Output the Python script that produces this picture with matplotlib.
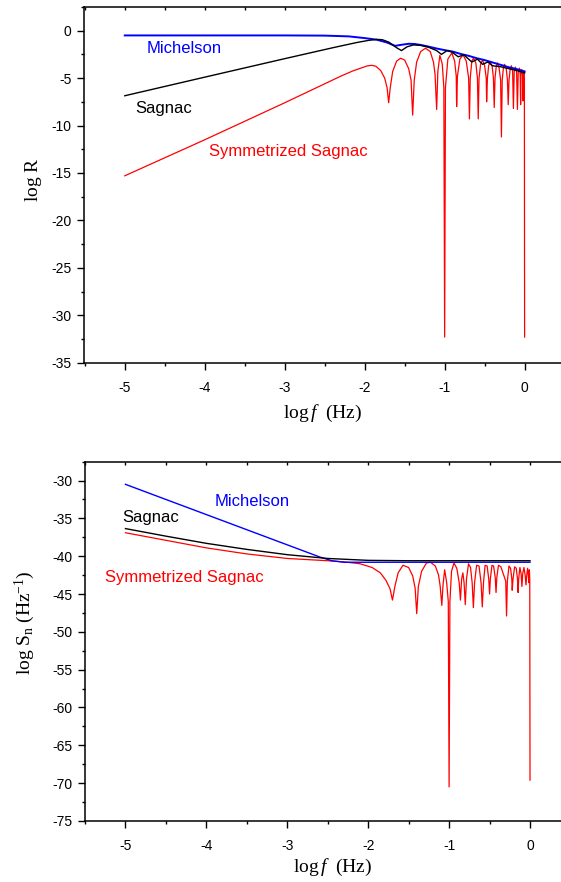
import matplotlib
matplotlib.use("Agg")
import matplotlib.pyplot as plt
from matplotlib.ticker import MultipleLocator

plt.rcParams['font.family'] = ['Liberation Sans', 'DejaVu Sans']
plt.rcParams['axes.unicode_minus'] = False
plt.rcParams['mathtext.fontset'] = 'custom'
plt.rcParams['mathtext.rm'] = 'Liberation Serif'
plt.rcParams['mathtext.it'] = 'Liberation Serif:italic'

# ---- top panel: log R vs log f ----
top_mich_x = [-5.0, -3.0, -2.5, -2.2, -2.0, -1.85, -1.72, -1.62, -1.55, -1.45, -1.38, -1.3,
              -1.2, -1.1, -1.0, -0.9, -0.8, -0.7, -0.6, -0.5, -0.4, -0.3, -0.2, -0.1, 0.0]
top_mich_y = [-0.5, -0.5, -0.52, -0.6, -0.78, -0.95, -1.25, -1.6, -1.5, -1.38, -1.4, -1.5,
              -1.68, -1.88, -2.05, -2.2, -2.45, -2.65, -2.9, -3.1, -3.35, -3.6, -3.85, -4.05, -4.3]

top_sag_x = [-5.0, -4.0, -3.0, -2.4, -2.1, -1.95, -1.85, -1.78, -1.7, -1.6, -1.54, -1.47, -1.39,
             -1.3, -1.2, -1.1, -1.04, -0.97, -0.91, -0.83, -0.76, -0.66, -0.59, -0.525, -0.46,
             -0.4, -0.3, -0.2, -0.1, 0.0]
top_sag_y = [-6.86, -4.9, -2.95, -1.8, -1.25, -1.02, -0.92, -0.95, -1.2, -1.8, -2.1, -1.7, -1.5,
             -1.55, -1.75, -2.1, -2.5, -2.1, -2.25, -2.75, -2.55, -3.3, -3.0, -3.55, -3.3,
             -3.7, -3.8, -4.0, -4.2, -4.45]

top_sym_x = [-5.0, -4.0, -3.0, -2.5, -2.3, -2.15, -2.05, -1.97, -1.91, -1.86, -1.8, -1.75, -1.72,
             -1.7, -1.68, -1.65, -1.6, -1.55, -1.5, -1.45, -1.42, -1.4, -1.38, -1.35, -1.3,
             -1.24, -1.18, -1.14, -1.12, -1.1, -1.085, -1.06, -1.03, -1.01, -1.0, -0.99, -0.96,
             -0.91, -0.875, -0.855, -0.85, -0.84, -0.81, -0.77, -0.73, -0.7, -0.69, -0.68, -0.66,
             -0.64, -0.61, -0.59, -0.58, -0.57, -0.55, -0.525, -0.5, -0.48, -0.475, -0.465,
             -0.45, -0.43, -0.405, -0.39, -0.38, -0.37, -0.355, -0.34, -0.32, -0.3, -0.29,
             -0.28, -0.265, -0.25, -0.23, -0.215, -0.205, -0.195, -0.18, -0.165, -0.15, -0.14,
             -0.13, -0.115, -0.1, -0.09, -0.08, -0.065, -0.055, -0.05, -0.045, -0.035, -0.025,
             -0.02, -0.015, -0.008, -0.003, 0.0]
top_sym_y = [-15.3, -11.5, -7.6, -5.6, -4.8, -4.25, -3.95, -3.72, -3.65, -3.75, -4.2, -5.0, -6.0,
             -7.6, -6.0, -4.3, -3.2, -2.9, -3.1, -4.0, -5.2, -8.9, -5.2, -3.3, -2.2,
             -1.85, -2.2, -3.3, -4.6, -8.3, -4.3, -2.6, -3.5, -6.0, -32.3, -6.0, -3.0,
             -2.35, -3.2, -4.8, -8.0, -4.8, -3.0, -2.55, -3.2, -5.0, -9.3, -5.0, -3.2,
             -2.9, -3.4, -5.0, -9.3, -5.0, -3.5, -3.1, -3.7, -5.0, -7.5, -5.0,
             -3.7, -3.25, -3.8, -5.0, -8.1, -5.0, -3.8, -3.4, -3.9, -5.2, -11.2,
             -5.2, -3.9, -3.55, -4.0, -5.2, -7.8, -5.2, -4.0, -3.7, -4.3, -8.2,
             -4.3, -3.85, -4.4, -8.3, -4.4, -3.95, -4.6, -7.8, -4.6, -4.1, -4.7,
             -7.4, -4.7, -4.25, -5.0, -32.3]

# ---- bottom panel: log Sn vs log f ----
bot_mich_x = [-5.0, -2.6, -2.45, -2.3, 0.0]
bot_mich_y = [-30.5, -40.1, -40.6, -40.8, -40.8]

bot_sag_x = [-5.0, -4.5, -4.0, -3.5, -3.0, -2.5, -2.0, -1.5, 0.0]
bot_sag_y = [-36.35, -37.35, -38.3, -39.1, -39.8, -40.3, -40.55, -40.6, -40.6]

bot_sym_x = [-5.0, -4.5, -4.0, -3.5, -3.0, -2.5, -2.3, -2.1, -1.95, -1.85, -1.78, -1.73, -1.7,
             -1.67, -1.63, -1.57, -1.5, -1.45, -1.42, -1.4, -1.38, -1.34, -1.28, -1.23, -1.17,
             -1.13, -1.11, -1.09, -1.075, -1.055, -1.03, -1.01, -1.0, -0.99, -0.97, -0.94,
             -0.905, -0.875, -0.86, -0.845, -0.83, -0.815, -0.8, -0.785, -0.76, -0.735, -0.715,
             -0.7, -0.685, -0.66, -0.63, -0.605, -0.59, -0.575, -0.555, -0.53, -0.51, -0.5,
             -0.49, -0.47, -0.45, -0.43, -0.42, -0.41, -0.39, -0.36, -0.3, -0.29, -0.28, -0.26,
             -0.24, -0.225, -0.22, -0.21, -0.19, -0.17, -0.155, -0.147, -0.14, -0.125, -0.11,
             -0.1, -0.09, -0.075, -0.06, -0.05, -0.04, -0.03, -0.02, -0.015, -0.008, -0.003, 0.0]
bot_sym_y = [-36.9, -37.9, -38.9, -39.7, -40.3, -40.6, -40.75, -41.0, -41.5, -42.2, -43.2, -44.3, -45.8,
             -44.0, -42.2, -41.2, -41.5, -42.6, -44.2, -47.6, -44.0, -42.0, -40.9, -40.8, -41.3,
             -42.5, -44.0, -46.5, -43.8, -41.8, -43.5, -46.0, -70.5, -46.0, -42.0, -40.9,
             -41.6, -43.5, -45.8, -43.0, -42.2, -43.5, -46.4, -43.0, -41.0, -41.5, -43.5,
             -46.8, -43.5, -41.2, -41.3, -43.5, -46.7, -43.5, -41.2, -41.3, -43.0, -45.0,
             -43.0, -41.2, -41.3, -42.8, -44.8, -42.8, -41.2, -41.4, -43.3, -47.9, -43.3, -41.3,
             -41.6, -43.0, -44.5, -43.0, -41.4, -41.6, -43.0, -44.8, -43.0, -41.5, -42.3,
             -44.0, -42.3, -41.5, -42.5, -43.8, -42.5, -41.6, -42.5, -43.5, -41.8, -43.0, -69.6]

labels = ['Michelson', 'Sagnac', 'Symmetrized Sagnac']
colors = ['#0000ff', '#000000', '#ff0000']

fig = plt.figure(figsize=(5.61, 8.82), dpi=100)
ax1 = fig.add_axes([0.1497, 0.5888, 0.8503, 0.4033])
ax2 = fig.add_axes([0.1515, 0.0692, 0.8485, 0.4074])

ax1.plot(top_sym_x, top_sym_y, color=colors[2], lw=0.9)
ax1.plot(top_mich_x, top_mich_y, color=colors[0], lw=1.4)
ax1.plot(top_sag_x, top_sag_y, color=colors[1], lw=1.0)

ax2.plot(bot_sym_x, bot_sym_y, color=colors[2], lw=0.9)
ax2.plot(bot_mich_x, bot_mich_y, color=colors[0], lw=1.0)
ax2.plot(bot_sag_x, bot_sag_y, color=colors[1], lw=1.0)

# curve names written inside the plots
top_text_pos = [(-4.256, -1.93), (-4.515, -8.16), (-2.957, -12.75)]
bot_text_pos = [(-3.436, -32.74), (-4.693, -34.85), (-4.273, -42.79)]
for lab, c, p in zip(labels, colors, top_text_pos):
    ax1.text(p[0], p[1], lab, color=c, fontsize=12, ha='center', va='center')
for lab, c, p in zip(labels, colors, bot_text_pos):
    ax2.text(p[0], p[1], lab, color=c, fontsize=12, ha='center', va='center')

ax1.set_xlim(-5.51, 0.455)
ax1.set_ylim(-35, 2.5)
ax1.yaxis.set_major_locator(MultipleLocator(5))
ax1.yaxis.set_minor_locator(MultipleLocator(2.5))

ax2.set_xlim(-5.5, 0.383)
ax2.set_ylim(-75, -27.5)
ax2.yaxis.set_major_locator(MultipleLocator(5))
ax2.yaxis.set_minor_locator(MultipleLocator(2.5))

for ax in (ax1, ax2):
    ax.xaxis.set_major_locator(MultipleLocator(1))
    ax.xaxis.set_minor_locator(MultipleLocator(0.5))
    ax.spines['right'].set_visible(False)
    for s in ('left', 'bottom', 'top'):
        ax.spines[s].set_linewidth(1.1)
    ax.tick_params(axis='both', which='major', direction='out', length=5, width=1.0,
                   labelsize=10, pad=4)
    ax.tick_params(axis='both', which='minor', direction='out', length=2.5, width=1.0)
    ax.tick_params(axis='x', which='major', pad=8)
    ax.xaxis.set_tick_params(which='both', top=True)

# top ticks point inwards, short
for ax in (ax1, ax2):
    for t in ax.xaxis.get_major_ticks() + ax.xaxis.get_minor_ticks():
        t.tick2line.set_markersize(2)
        t.tick2line.set_marker(3)

fig.text(33 / 561, 1 - 180 / 882, r'$\mathrm{log\ R}$', rotation=90,
         ha='center', va='center', fontsize=14)
fig.text(323 / 561, 1 - 413 / 882, r'$\mathrm{log}\,f\ \ \mathrm{(Hz)}$',
         ha='center', va='center', fontsize=14)
fig.text(25 / 561, 1 - 623 / 882, r'$\mathrm{log\ S_n\ (Hz^{-1})}$', rotation=90,
         ha='center', va='center', fontsize=14)
fig.text(333 / 561, 1 - 867 / 882, r'$\mathrm{log}\,f\ \ \mathrm{(Hz)}$',
         ha='center', va='center', fontsize=14)

fig.savefig('out.png', dpi=100)
